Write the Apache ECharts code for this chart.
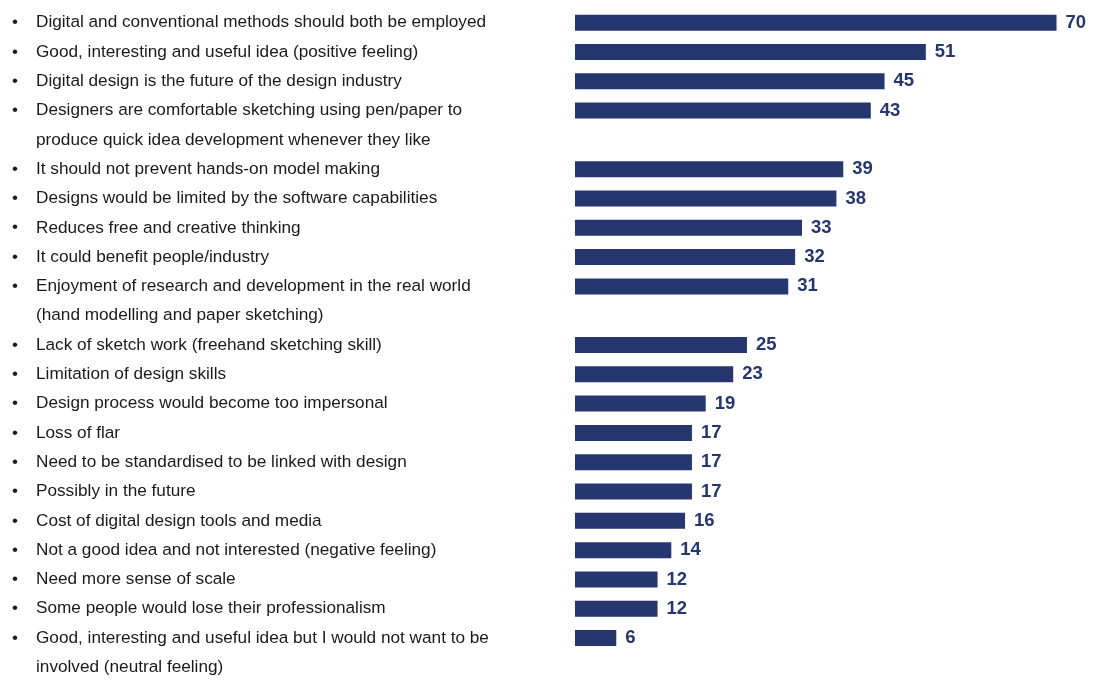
<!DOCTYPE html>
<html>
<head>
<meta charset="utf-8">
<script src="https://cdn.jsdelivr.net/npm/echarts@6/dist/echarts.min.js"></script>
<style>
  html, body { margin: 0; padding: 0; background: #ffffff; }
  #chart { width: 1115px; height: 682px; }
</style>
</head>
<body>
<div id="chart"></div>
<script>
// Survey statements (a "\n" marks where a statement wraps onto a second line)
const statements = [
  'Digital and conventional methods should both be employed',
  'Good, interesting and useful idea (positive feeling)',
  'Digital design is the future of the design industry',
  'Designers are comfortable sketching using pen/paper to\nproduce quick idea development whenever they like',
  'It should not prevent hands-on model making',
  'Designs would be limited by the software capabilities',
  'Reduces free and creative thinking',
  'It could benefit people/industry',
  'Enjoyment of research and development in the real world\n(hand modelling and paper sketching)',
  'Lack of sketch work (freehand sketching skill)',
  'Limitation of design skills',
  'Design process would become too impersonal',
  'Loss of flar',
  'Need to be standardised to be linked with design',
  'Possibly in the future',
  'Cost of digital design tools and media',
  'Not a good idea and not interested (negative feeling)',
  'Need more sense of scale',
  'Some people would lose their professionalism',
  'Good, interesting and useful idea but I would not want to be\ninvolved (neutral feeling)'
];

// Number of responses per statement
const counts = [70, 51, 45, 43, 39, 38, 33, 32, 31, 25, 23, 19, 17, 17, 17, 16, 14, 12, 12, 6];

// One axis row per text line; wrapped lines get no bar and no bullet
const rows = [];
const rowValues = [];
statements.forEach((s, i) => {
  s.split('\n').forEach((line, j) => {
    rows.push((j === 0 ? '{b|\u2022}' : '{b|}') + '{t|' + line + '}');
    rowValues.push(j === 0 ? counts[i] : null);
  });
});

const navy = '#26366e';
const chart = echarts.init(document.getElementById('chart'));
chart.setOption({
  animation: false,
  backgroundColor: '#ffffff',
  grid: { left: 575, top: 8, width: 540, height: 676, containLabel: false },
  xAxis: {
    type: 'value', min: 0, max: 78.5, show: false
  },
  yAxis: {
    type: 'category',
    data: rows,
    inverse: true,
    axisLine: { show: false },
    axisTick: { show: false },
    splitLine: { show: false },
    axisLabel: {
      interval: 0,
      align: 'left',
      margin: 563,
      rich: {
        b: { width: 24, fontFamily: 'Liberation Sans', fontSize: 17, color: '#1a1a1a' },
        t: { fontFamily: 'Liberation Sans', fontSize: 17.2, color: '#1a1a1a' }
      }
    }
  },
  series: [{
    type: 'bar',
    data: rowValues,
    barWidth: 16,
    itemStyle: { color: navy },
    label: {
      show: true,
      position: 'right',
      distance: 9,
      color: navy,
      fontFamily: 'Liberation Sans',
      fontWeight: 'bold',
      fontSize: 18.5
    }
  }]
});
</script>
</body>
</html>
